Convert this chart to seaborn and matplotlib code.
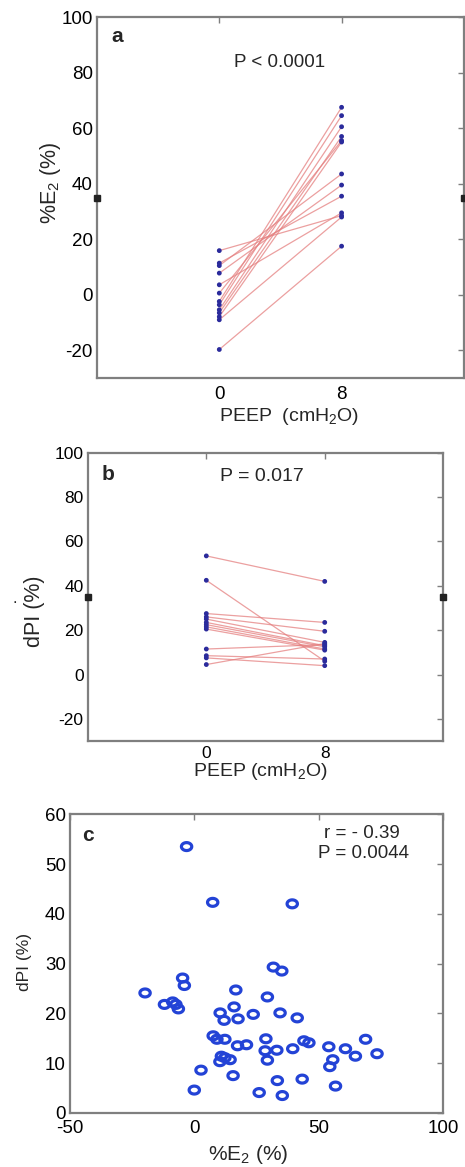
import numpy as np
import pandas as pd
import matplotlib
matplotlib.use("Agg")
import matplotlib.pyplot as plt
import seaborn as sns
from matplotlib.path import Path

# ---------------- data ----------------
peep_levels = [0, 8]
peep_ticks = [0, 8]

# panel a: %E2 at PEEP 0 and PEEP 8 (paired per subject)
e2_peep0 = [15.9, 11.4, 10.5, 7.8, 3.6, 0.6, -2.4, -3.6, -5.4, -6.5, -7.9, -9.0, -19.7]
e2_peep8 = [28.5, 35.5, 43.5, 39.5, 29.5, 55.5, 67.5, 64.5, 60.5, 57.0, 55.0, 28.0, 17.5]

# panel b: dPI at PEEP 0 and PEEP 8 (paired per subject)
dpi_peep0 = [53.5, 42.5, 27.5, 26.0, 25.0, 23.5, 22.5, 21.5, 20.5, 11.5, 8.5, 7.5, 4.5]
dpi_peep8 = [42.0, 6.0, 23.5, 19.5, 14.5, 13.0, 12.5, 11.5, 11.0, 13.5, 7.0, 4.0, 14.0]

# panel c: dPI vs %E2 scatter
scatter_e2 = [-3.1, 7.4, 39.4, 31.8, 35.2, -4.7, -4.0, -19.8, 16.7, 29.4, -12.0, -8.7,
              -7.4, -6.4, 16.0, 10.4, 12.0, 17.6, 23.7, 34.5, 41.4, 7.6, 9.1, 12.3,
              17.4, 21.0, 28.8, 28.5, 33.2, 39.6, 44.1, 46.1, 54.1, 60.8, 64.8, 68.9,
              73.5, 10.9, 12.3, 10.3, 14.4, 29.4, 55.7, 54.5, 2.7, 15.6, 33.4, 43.4,
              56.8, 0.0, 26.1, 35.4]
scatter_dpi = [53.5, 42.3, 42.0, 29.3, 28.5, 27.1, 25.6, 24.1, 24.7, 23.3, 21.8, 22.3,
               21.8, 20.9, 21.3, 20.1, 18.6, 18.9, 19.8, 20.1, 19.1, 15.5, 14.8, 14.8,
               13.5, 13.7, 14.9, 12.5, 12.6, 12.9, 14.5, 14.1, 13.3, 12.9, 11.4, 14.8,
               11.9, 11.4, 11.1, 10.3, 10.7, 10.6, 10.7, 9.3, 8.6, 7.5, 6.5, 6.8,
               5.4, 4.6, 4.1, 3.5]

# small black edge markers (as in original figure)
edge_x = [-8, 16]
edge_y = [35, 35]

ab_yticks = [-20, 0, 20, 40, 60, 80, 100]
c_xticks = [-50, 0, 50, 100]
c_yticks = [0, 10, 20, 30, 40, 50, 60]

# ---------------- style ----------------
sns.set_theme(style="white")
plt.rcParams['font.family'] = ['Liberation Sans', 'DejaVu Sans']
plt.rcParams['mathtext.fontset'] = 'custom'
plt.rcParams['mathtext.rm'] = 'Liberation Sans'
plt.rcParams['mathtext.it'] = 'Liberation Sans:italic'
plt.rcParams['mathtext.bf'] = 'Liberation Sans:bold'
plt.rcParams['axes.unicode_minus'] = False

FRAME = '#7f7f7f'
LINE = '#e58080'
DOT = '#2b2b9c'
CIRC = '#2343d6'

fig = plt.figure(figsize=(4.65, 11.67), dpi=100)
ax_a = fig.add_axes([0.2086, 0.676, 0.789, 0.3094])
ax_b = fig.add_axes([0.189, 0.365, 0.764, 0.247])
ax_c = fig.add_axes([0.1505, 0.0463, 0.802, 0.256])


def style_axes(ax, fs=13.5, xpad=7, ypad=3):
    for s in ax.spines.values():
        s.set_visible(True)
        s.set_color(FRAME)
        s.set_linewidth(1.6)
    ax.tick_params(direction='in', length=4, width=1, colors=FRAME,
                   top=True, right=True, labelsize=fs, labelcolor='black')
    ax.tick_params(axis='x', pad=xpad)
    ax.tick_params(axis='y', pad=ypad)
    ax.grid(False)


def paired_panel(ax, v0, v8):
    n = len(v0)
    df = pd.DataFrame({
        'subject': list(range(n)) * 2,
        'peep': [peep_levels[0]] * n + [peep_levels[1]] * n,
        'value': list(v0) + list(v8),
    })
    sns.lineplot(data=df, x='peep', y='value', units='subject', estimator=None,
                 color=LINE, alpha=0.75, linewidth=0.9, ax=ax, legend=False)
    sns.scatterplot(data=df, x='peep', y='value', color=DOT, s=12, marker='o',
                    edgecolor='none', ax=ax, legend=False, zorder=3)
    ax.plot(edge_x, edge_y, linestyle='none', marker='s', markersize=4,
            color='#222222', clip_on=False, zorder=5)
    ax.set_xlim(-8, 16)
    ax.set_ylim(-30, 100)
    ax.set_xticks(peep_ticks)
    ax.set_yticks(ab_yticks)


# panel a
paired_panel(ax_a, e2_peep0, e2_peep8)
style_axes(ax_a, fs=13.5, xpad=6, ypad=3)
ax_a.set_xlabel('PEEP  (cmH$_2$O)', fontsize=14)
ax_a.set_ylabel('%E$_2$ (%)', fontsize=15.5)
ax_a.xaxis.label.set_va('center')
ax_a.yaxis.label.set_va('center')
ax_a.xaxis.set_label_coords(0.524, -0.105)
ax_a.yaxis.set_label_coords(-0.128, 0.54)
ax_a.text(0.054, 0.947, 'a', transform=ax_a.transAxes, fontsize=15,
          fontweight='bold', ha='center', va='center')
ax_a.text(0.497, 0.873, 'P < 0.0001', transform=ax_a.transAxes, fontsize=13.5,
          ha='center', va='center')

# panel b
paired_panel(ax_b, dpi_peep0, dpi_peep8)
style_axes(ax_b, fs=12.5, xpad=3.5, ypad=3)
ax_b.set_xlabel('PEEP (cmH$_2$O)', fontsize=14)
ax_b.set_ylabel('dPI (%)', fontsize=15.5)
ax_b.xaxis.label.set_va('center')
ax_b.yaxis.label.set_va('center')
ax_b.xaxis.set_label_coords(0.485, -0.105)
ax_b.yaxis.set_label_coords(-0.149, 0.45)
ax_b.text(-0.205, 0.495, '.', transform=ax_b.transAxes, fontsize=12,
          ha='center', va='center')
ax_b.text(0.056, 0.924, 'b', transform=ax_b.transAxes, fontsize=15,
          fontweight='bold', ha='center', va='center')
ax_b.text(0.49, 0.917, 'P = 0.017', transform=ax_b.transAxes, fontsize=14,
          ha='center', va='center')

# panel c
t = np.linspace(0, 2 * np.pi, 60)
ellipse = Path(np.column_stack([1.3 * np.cos(t), np.sin(t)]), closed=True)
dfc = pd.DataFrame({'e2': scatter_e2, 'dpi': scatter_dpi})
sns.scatterplot(data=dfc, x='e2', y='dpi', marker=ellipse, s=55,
                facecolor='none', edgecolor=CIRC, linewidth=2.3, ax=ax_c,
                legend=False, clip_on=False)
ax_c.set_xlim(-50, 100)
ax_c.set_ylim(0, 60)
ax_c.set_xticks(c_xticks)
ax_c.set_yticks(c_yticks)
style_axes(ax_c, fs=13.5, xpad=5, ypad=3)
ax_c.set_xlabel('%E$_2$ (%)', fontsize=15)
ax_c.set_ylabel('dPI (%)', fontsize=12.5)
ax_c.xaxis.label.set_va('center')
ax_c.yaxis.label.set_va('center')
ax_c.xaxis.set_label_coords(0.477, -0.14)
ax_c.yaxis.set_label_coords(-0.123, 0.505)
ax_c.text(0.048, 0.93, 'c', transform=ax_c.transAxes, fontsize=15,
          fontweight='bold', ha='center', va='center')
ax_c.text(0.783, 0.936, 'r = - 0.39', transform=ax_c.transAxes, fontsize=13.5,
          ha='center', va='center')
ax_c.text(0.788, 0.87, 'P = 0.0044', transform=ax_c.transAxes, fontsize=13.5,
          ha='center', va='center')

fig.savefig('out.png', dpi=100, facecolor='white')
